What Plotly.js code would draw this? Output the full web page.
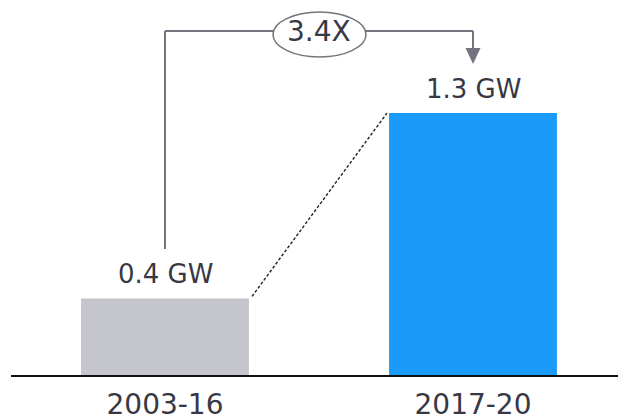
<!DOCTYPE html>
<html>
<head>
<meta charset="utf-8">
<script src="https://cdn.plot.ly/plotly-3.0.1.min.js"></script>
<style>html,body{margin:0;padding:0;background:#fff;}#chart{width:618px;height:420px;}</style>
</head>
<body>
<div id="chart"></div>
<script>
// Data
var categories = ["2003-16", "2017-20"];
var values = [0.38, 1.3];
var valueLabels = ["0.4 GW", "1.3 GW"];
var barColors = ["#c5c5cd", "#1a9bfc"];
var multiplierLabel = "3.4X";

var textColor = "#383844";
var lineGray = "#74747e";
var FONT = "DejaVu Sans, Verdana, sans-serif";

var pxPerUnit = 201.5;       // y pixels per GW
function yd(px){ return (375 - px) / pxPerUnit; }   // pixel -> data y
function xd(px){ return (px - 165) / 308; }         // pixel -> category coordinate

var trace = {
  type: "bar",
  x: categories,
  y: values,
  width: 0.545,
  marker: {color: barColors, line: {width: 0}},
  hoverinfo: "none"
};

var topY = yd(31);
var shapes = [
  {type: "line", xref: "x", yref: "y", x0: 0, x1: 0, y0: yd(249), y1: topY, line: {color: lineGray, width: 2}},
  {type: "line", xref: "x", yref: "y", x0: 0, x1: 1, y0: topY, y1: topY, line: {color: lineGray, width: 2}},
  {type: "line", xref: "x", yref: "y", x0: 1, x1: 1, y0: topY, y1: yd(49), line: {color: lineGray, width: 2}},
  {type: "path", xref: "x", yref: "y",
   path: "M " + (1 - 7.5/308) + "," + yd(48) + " L " + (1 + 7.5/308) + "," + yd(48) + " L 1," + yd(64) + " Z",
   fillcolor: lineGray, line: {width: 0}},
  {type: "circle", xref: "x", yref: "y", x0: xd(273), x1: xd(366), y0: yd(57), y1: yd(12),
   fillcolor: "#ffffff", line: {color: lineGray, width: 1.5}},
  {type: "line", xref: "x", yref: "y", x0: 0.2727 + 3/308, y0: values[0] + 2/pxPerUnit,
   x1: 1 - 0.2727 - 2/308, y1: values[1], line: {color: "#222", width: 1.4, dash: "3px,2px"}}
];

var annotations = [
  {xref: "x", yref: "y", x: 0, y: values[0], text: valueLabels[0], showarrow: false,
   yanchor: "middle", yshift: 24, font: {family: FONT, size: 26, color: textColor}},
  {xref: "x", yref: "y", x: 1, y: values[1], text: valueLabels[1], showarrow: false,
   yanchor: "middle", yshift: 24, font: {family: FONT, size: 26, color: textColor}},
  {xref: "x", yref: "y", x: 0.5, y: topY, text: multiplierLabel, showarrow: false,
   yanchor: "middle", font: {family: FONT, size: 28, color: textColor}}
];

var layout = {
  width: 618, height: 420,
  margin: {l: 11, r: 0, t: 0, b: 45, pad: 0},
  paper_bgcolor: "#ffffff", plot_bgcolor: "#ffffff",
  showlegend: false,
  xaxis: {
    type: "category", range: [-0.5, -0.5 + 607/308],
    showline: true, linecolor: "#111111", linewidth: 2,
    ticks: "", showgrid: false, zeroline: false, ticklabelstandoff: 3,
    tickfont: {family: FONT, size: 28, color: textColor}
  },
  yaxis: {
    range: [0, 375 / pxPerUnit], visible: false, showgrid: false, zeroline: false
  },
  shapes: shapes,
  annotations: annotations
};

Plotly.newPlot("chart", [trace], layout, {displayModeBar: false, staticPlot: true});
</script>
</body>
</html>
